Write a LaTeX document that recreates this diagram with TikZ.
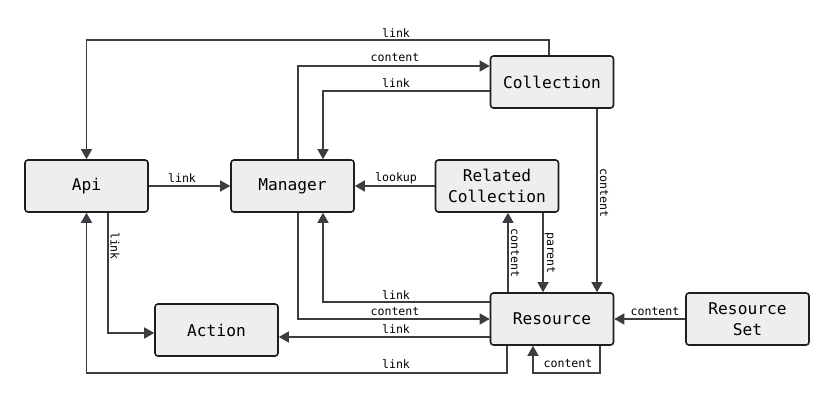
\documentclass[tikz,border=0pt]{standalone}
\usepackage{fontspec}
\setmonofont{DejaVu Sans Mono}
\usetikzlibrary{arrows.meta}
\definecolor{edgec}{HTML}{3A3E42}
\definecolor{boxfill}{HTML}{EEEEEE}
\definecolor{boxline}{HTML}{1E1E1E}
\tikzset{
  box/.style={draw=boxline, fill=boxfill, line width=1.6pt, rounded corners=3pt,
    minimum width=123pt, minimum height=52pt, inner sep=0pt, align=center,
    font=\ttfamily\fontsize{16.2}{20.5}\selectfont},
  arr/.style={draw=edgec, line width=1.5pt, -{Triangle[length=10pt,width=11pt]}},
  plain/.style={draw=edgec, line width=1.5pt},
  lbl/.style={font=\ttfamily\fontsize{11.6}{12}\selectfont, inner sep=0pt, text=black},
  vlbl/.style={lbl, rotate=-90}
}
\begin{document}
\begin{tikzpicture}[x=1pt,y=-1pt]
\useasboundingbox (0,0) rectangle (833,417);
\node[box] (api) at (86.5,186) {Api};
\node[box] (mgr) at (292.5,186) {Manager};
\node[box] (coll) at (552,82) {Collection};
\node[box] (rel) at (497,186) {Related\\Collection};
\node[box] (res) at (552,319) {Resource};
\node[box] (rset) at (747.5,319) {Resource\\Set};
\node[box] (act) at (216.5,330) {Action};

% Collection -> Api (link)
\draw[arr] ([xshift=-3pt]coll.north) -- ++(0,-15) -| (api.north)
  node[lbl] at (396,33) {link};
% Manager -> Collection (content)
\draw[arr] ([xshift=5.5pt]mgr.north) |- ([yshift=16pt]coll.west)
  node[lbl] at (395,58) {content};
% Collection -> Manager (link)
\draw[arr] ([yshift=-9pt]coll.west) -| ([xshift=30.5pt]mgr.north)
  node[lbl] at (396,83) {link};
% Api -> Manager (link)
\draw[arr] (api.east) -- (mgr.west) node[lbl] at (182,178) {link};
% Related -> Manager (lookup)
\draw[arr] (rel.west) -- (mgr.east) node[lbl] at (396,178) {lookup};
% Collection -> Resource (content)
\draw[arr] ([xshift=45pt]coll.south) -- ([xshift=45pt]res.north)
  node[vlbl] at (604,193) {content};
% Resource -> Related (content)
\draw[arr] ([xshift=-44pt]res.north) -- ([xshift=11pt]rel.south)
  node[vlbl] at (515,253) {content};
% Related -> Resource (parent)
\draw[arr] ([xshift=46pt]rel.south) -- ([xshift=-9pt]res.north)
  node[vlbl] at (550,253) {parent};
% Api -> Action (link)
\draw[arr] ([xshift=21.5pt]api.south) |- ([yshift=-3pt]act.west)
  node[vlbl] at (115,246) {link};
% Resource -> Manager (link)
\draw[arr] ([yshift=17pt]res.west) -| ([xshift=30.5pt]mgr.south)
  node[lbl] at (396,295) {link};
% Manager -> Resource (content)
\draw[arr] ([xshift=5.5pt]mgr.south) |- (res.west)
  node[lbl] at (395,312) {content};
% Resource -> Action (link)
\draw[arr] ([yshift=-18pt]res.west) -- ([yshift=-7pt]act.east)
  node[lbl] at (396,329.5) {link};
% Resource -> Api (link)
\draw[arr] ([xshift=-45pt]res.south) -- ++(0,27) -| (api.south)
  node[lbl] at (396,364) {link};
% Resource -> Resource (content)
\draw[arr] ([xshift=48pt]res.south) -- ++(0,27) -| ([xshift=-19pt]res.south)
  node[lbl] at (568,364) {content};
% Resource Set -> Resource (content)
\draw[arr] (rset.west) -- (res.east) node[lbl] at (655,312) {content};
\end{tikzpicture}
\end{document}
